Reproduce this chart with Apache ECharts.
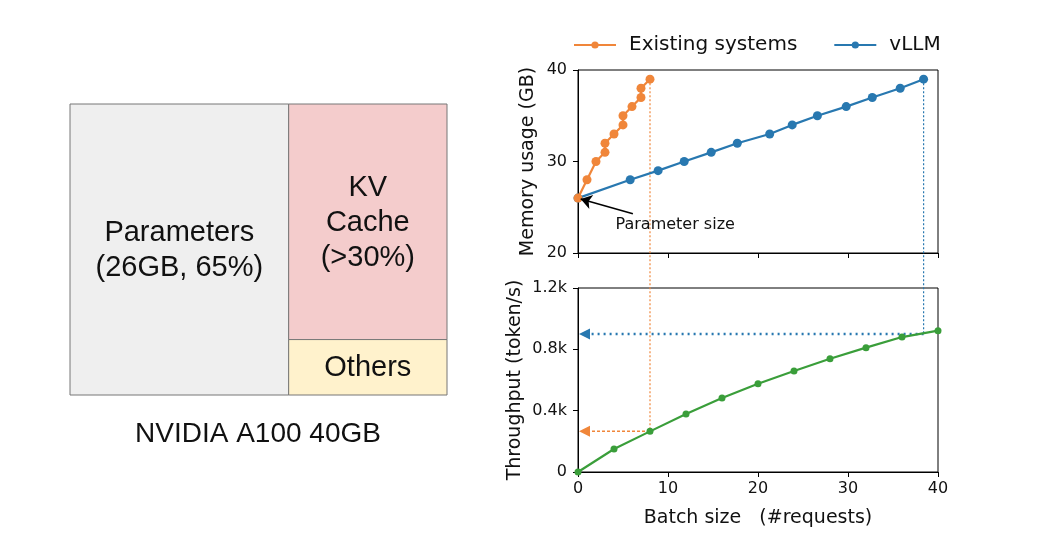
<!DOCTYPE html>
<html>
<head>
<meta charset="utf-8">
<title>vLLM memory and throughput</title>
<script src="https://cdn.jsdelivr.net/npm/echarts@6/dist/echarts.min.js"></script>
<style>
  html, body { margin: 0; padding: 0; background: #fff; }
  #main { width: 1060px; height: 556px; }
</style>
</head>
<body>
<div id="main"></div>
<script>
// memory layout of the GPU (left block), values are the drawn areas
var memLabels = ['Parameters\n(26GB, 65%)', 'KV\nCache\n(>30%)', 'Others'];
var memAreas = [58, 34, 8];

// memory usage vs batch size
var existingBatch = [0, 1, 2, 3, 3, 4, 5, 5, 6, 7, 7, 8];
var existingMem = [26, 28, 30, 31, 32, 33, 34, 35, 36, 37, 38, 39];
var vllmBatch = [0, 5.8, 8.9, 11.8, 14.8, 17.7, 21.3, 23.8, 26.6, 29.8, 32.7, 35.8, 38.4];
var vllmMem = [26, 28, 29, 30, 31, 32, 33, 34, 35, 36, 37, 38, 39];

// throughput vs batch size
var tputBatch = [0, 4, 8, 12, 16, 20, 24, 28, 32, 36, 40];
var tputValues = [0, 150, 265, 378, 482, 576, 659, 739, 811, 880, 922];

// where each system ends up (max batch, memory, throughput reached)
var existingEnd = [8, 39, 265];
var vllmEnd = [38.4, 39, 900];

// "Parameter size" note: arrow tail, arrow head, text
var paramArrow = [[6.1, 24.3], [0.3, 25.9]];
var paramText = [10.8, 23.1];

var ORANGE = '#f0863a';
var BLUE = '#2878b0';
var GREEN = '#3a9e3a';
var FONT = 'DejaVu Sans';
var memColors = ['#efefef', '#f4cccc', '#fff2cc'];

function zip(xs, ys) {
    return xs.map(function (x, i) { return [x, ys[i]]; });
}

// blocks of the layout: parameters take a column, KV cache and others split the rest
var memTotal = memAreas[0] + memAreas[1] + memAreas[2];
var paramW = 100 * memAreas[0] / memTotal;
var kvH = 100 * memAreas[1] / (memAreas[1] + memAreas[2]);
var memBlocks = [
    [0, paramW, 0, 100],
    [paramW, 100, 0, kvH],
    [paramW, 100, kvH, 100]
];

function renderBlock(params, api) {
    var p0 = api.coord([api.value(0), api.value(2)]);
    var p1 = api.coord([api.value(1), api.value(3)]);
    var i = params.dataIndex;
    return {
        type: 'group',
        children: [
            {
                type: 'rect',
                shape: { x: p0[0], y: p0[1], width: p1[0] - p0[0], height: p1[1] - p0[1] },
                style: { fill: memColors[i], stroke: '#777', lineWidth: 1 }
            },
            {
                type: 'text',
                style: {
                    text: memLabels[i],
                    x: (p0[0] + p1[0]) / 2, y: (p0[1] + p1[1]) / 2 + 1,
                    align: 'center', verticalAlign: 'middle',
                    fontFamily: 'Liberation Sans', fontSize: 29, lineHeight: 35,
                    fill: '#111'
                }
            }
        ]
    };
}

var chart = echarts.init(document.getElementById('main'));

chart.setOption({
    animation: false,
    backgroundColor: '#fff',
    legend: {
        data: ['Existing systems', 'vLLM'],
        left: 568,
        top: 30,
        itemWidth: 42,
        itemHeight: 9,
        itemGap: 36,
        textStyle: { fontFamily: FONT, fontSize: 20, color: '#111', padding: [0, 0, 0, 8] }
    },
    grid: [
        { left: 578, top: 70, width: 360, height: 183, show: true, borderColor: '#000', borderWidth: 1 },
        { left: 578, top: 288, width: 360, height: 184, show: true, borderColor: '#000', borderWidth: 1 },
        { left: 70, top: 104, width: 377, height: 291, show: false }
    ],
    xAxis: [
        {
            gridIndex: 0, type: 'value', min: 0, max: 40, interval: 10,
            axisLine: { lineStyle: { color: '#000' } },
            axisTick: { lineStyle: { color: '#000' }, length: 5 },
            axisLabel: { show: false },
            splitLine: { show: false }
        },
        {
            gridIndex: 1, type: 'value', min: 0, max: 40, interval: 10,
            name: 'Batch size   (#requests)', nameLocation: 'middle', nameGap: 37,
            nameTextStyle: { fontFamily: FONT, fontSize: 19, color: '#111' },
            axisLine: { lineStyle: { color: '#000' } },
            axisTick: { lineStyle: { color: '#000' }, length: 5 },
            axisLabel: { fontFamily: FONT, fontSize: 16, color: '#111', margin: 9 },
            splitLine: { show: false }
        },
        { gridIndex: 2, type: 'value', min: 0, max: 100, show: false }
    ],
    yAxis: [
        {
            gridIndex: 0, type: 'value', min: 20, max: 40, interval: 10,
            name: 'Memory usage (GB)', nameLocation: 'middle', nameGap: 40,
            nameTextStyle: { fontFamily: FONT, fontSize: 19, color: '#111' },
            axisLine: { show: true, lineStyle: { color: '#000' } },
            axisTick: { show: true, lineStyle: { color: '#000' }, length: 5 },
            axisLabel: { fontFamily: FONT, fontSize: 16, color: '#111', margin: 11 },
            splitLine: { show: false }
        },
        {
            gridIndex: 1, type: 'value', min: 0, max: 1200, interval: 400,
            name: 'Throughput (token/s)', nameLocation: 'middle', nameGap: 53,
            nameTextStyle: { fontFamily: FONT, fontSize: 19, color: '#111' },
            axisLine: { show: true, lineStyle: { color: '#000' } },
            axisTick: { show: true, lineStyle: { color: '#000' }, length: 5 },
            axisLabel: {
                fontFamily: FONT, fontSize: 16, color: '#111', margin: 11,
                formatter: function (v) { return v === 0 ? '0' : (v / 1000).toFixed(1) + 'k'; }
            },
            splitLine: { show: false }
        },
        { gridIndex: 2, type: 'value', min: 0, max: 100, inverse: true, show: false }
    ],
    series: [
        {
            name: 'Memory layout', type: 'custom',
            xAxisIndex: 2, yAxisIndex: 2,
            silent: true,
            renderItem: renderBlock,
            data: memBlocks
        },
        {
            name: 'Existing systems', type: 'line',
            xAxisIndex: 0, yAxisIndex: 0,
            data: zip(existingBatch, existingMem),
            color: ORANGE,
            symbol: 'circle', symbolSize: 9,
            lineStyle: { width: 2.2 },
            z: 4
        },
        {
            name: 'vLLM', type: 'line',
            xAxisIndex: 0, yAxisIndex: 0,
            data: zip(vllmBatch, vllmMem),
            color: BLUE,
            symbol: 'circle', symbolSize: 9,
            lineStyle: { width: 2.2 },
            z: 3,
            markLine: {
                silent: true, animation: false,
                symbol: ['none', 'arrow'], symbolSize: 11,
                lineStyle: { color: '#000', width: 1.5, type: 'solid' },
                label: { show: false },
                data: [[{ coord: paramArrow[0] }, { coord: paramArrow[1] }]]
            },
            markPoint: {
                silent: true, animation: false,
                symbol: 'rect', symbolSize: 1,
                itemStyle: { color: 'rgba(0,0,0,0)' },
                label: {
                    show: true, position: 'inside', formatter: 'Parameter size',
                    fontFamily: FONT, fontSize: 16, color: '#111'
                },
                data: [{ coord: paramText }]
            }
        },
        {
            name: 'Throughput', type: 'line',
            xAxisIndex: 1, yAxisIndex: 1,
            data: zip(tputBatch, tputValues),
            color: GREEN,
            symbol: 'circle', symbolSize: 7,
            lineStyle: { width: 2.2 },
            z: 3
        }
    ]
});

// guide lines from the last memory point down to the throughput curve, then to the axis
function guide(end, color, vStyle, hStyle) {
    var top = chart.convertToPixel({ gridIndex: 0 }, [end[0], end[1]]);
    var bot = chart.convertToPixel({ gridIndex: 1 }, [end[0], end[2]]);
    var tip = chart.convertToPixel({ gridIndex: 1 }, [0, end[2]]);
    tip[0] += 1;
    return [
        { type: 'line', z: 1, shape: { x1: top[0], y1: top[1], x2: bot[0], y2: bot[1] },
          style: Object.assign({ stroke: color, fill: null }, vStyle) },
        { type: 'line', z: 1, shape: { x1: bot[0], y1: bot[1], x2: tip[0] + 9, y2: tip[1] },
          style: Object.assign({ stroke: color, fill: null }, hStyle) },
        { type: 'polygon', z: 1,
          shape: { points: [[tip[0], tip[1]], [tip[0] + 11, tip[1] - 5.5], [tip[0] + 11, tip[1] + 5.5]] },
          style: { fill: color } }
    ];
}

var caption = {
    type: 'text',
    style: {
        text: 'NVIDIA A100 40GB', x: 258, y: 434,
        align: 'center', verticalAlign: 'middle',
        font: '28px "Liberation Sans"', fill: '#111'
    }
};

chart.setOption({
    graphic: [caption]
        .concat(guide(existingEnd, ORANGE,
            { lineWidth: 1.2, lineDash: [2, 2] },
            { lineWidth: 1.5, lineDash: [3, 2] }))
        .concat(guide(vllmEnd, BLUE,
            { lineWidth: 1.2, lineDash: [2, 2] },
            { lineWidth: 2.5, lineDash: [2, 4] }))
});
</script>
</body>
</html>
